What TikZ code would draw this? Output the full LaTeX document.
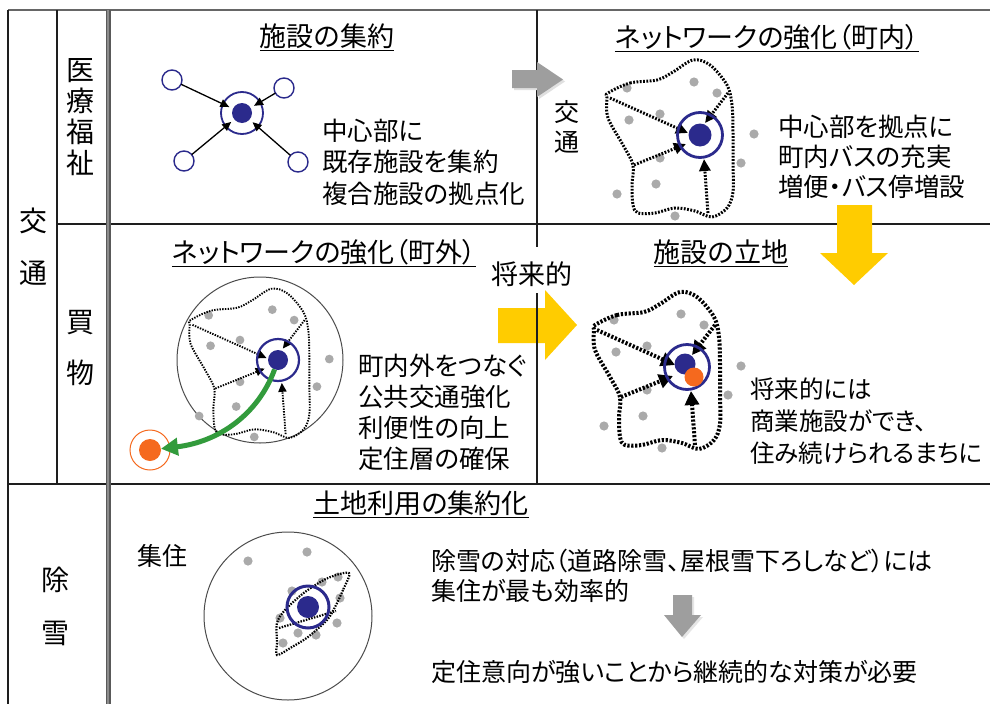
\documentclass[tikz,border=0pt]{standalone}
\usepackage{fontspec}
\setmainfont{Noto Sans CJK JP}[RawFeature=+palt]
\usetikzlibrary{arrows.meta}
\definecolor{navy}{RGB}{43,42,140}
\definecolor{dotgray}{RGB}{170,170,170}
\definecolor{ylw}{RGB}{255,204,0}
\definecolor{garrow}{RGB}{158,158,158}
\definecolor{grn}{RGB}{50,155,60}
\definecolor{org}{RGB}{245,105,30}
\definecolor{rule}{RGB}{30,30,30}
\tikzset{
  lbl/.style={inner sep=0pt, font=\fontsize{28}{31}\selectfont},
  ttl/.style={inner sep=0pt, font=\fontsize{27}{31}\selectfont},
  bodytext/.style={inner sep=0pt, anchor=west, align=left},
  hubdot/.style={circle, fill=navy, inner sep=0pt, outer sep=0pt},
  hubring/.style={circle, draw=navy, inner sep=0pt, outer sep=0pt},
  sat/.style={circle, draw=navy, line width=1.4pt, fill=white, inner sep=0pt, outer sep=0pt, minimum size=20pt},
  arr/.style={line width=1.3pt, shorten >=4pt, -{Triangle[length=9pt,width=8pt]}},
  dotA/.style={line width=1.9pt, dash pattern=on 1.4pt off 1.3pt},
  dotB/.style={line width=3pt, dash pattern=on 1.8pt off 1.5pt},
  dotC/.style={line width=4pt, dash pattern=on 2.2pt off 1.7pt},
  dotD/.style={line width=2.2pt, dash pattern=on 1.5pt off 1.3pt},
  uline/.style={line width=1.2pt},
}
\newcommand\netdiagram[2]{%
  \foreach \px/\py in {-73/-47,-6/-53,17/-42,-71/-15,-40/-21,54/-1,-40/23,41/28,-44/49,-83/59,-25/81}
    \fill[dotgray] (\px,\py) circle[radius=4.6pt];
  \draw[#1] plot[smooth cycle, tension=0.55] coordinates {(-92,-42)(-70,-52)(-43,-55)(-27,-63)(-7,-75)(10,-70)(27,-50)(32,-30)(33,-3)(33,27)(33,57)(27,73)(12,82)(-5,76)(-25,73)(-45,78)(-62,78)(-67,70)(-68,50)(-67,30)(-77,10)(-92,-17)(-93,-37)};
  \draw[#1,-{#2}] (-90,-37) -- (-12,-2);
  \draw[#1,-{#2}] (-66,30) -- (-14,9);
  \draw[#1,-{#2}] (28,-42) -- (5,-12);
  \draw[#1,-{#2}] (8,78) -- (4,24);
}
\begin{document}
\begin{tikzpicture}[x=1pt,y=-1pt, font=\fontsize{25.5}{31.5}\selectfont]
\useasboundingbox (0,0) rectangle (990,704);
\fill[white] (0,0) rectangle (990,704);

% yellow right arrow (under the table lines)
\fill[ylw] (498,308) -- (545,308) -- (545,290) -- (577,325) -- (545,360) -- (545,343) -- (498,343) -- cycle;

% table lines
\draw[black!60, line width=2pt] (8,10) -- (990,10);
\draw[rule, line width=1.6pt] (8,10) -- (8,704);
\draw[rule, line width=1.4pt] (57,10) -- (57,484);
\draw[rule, line width=1.6pt] (57,224) -- (990,224);
\draw[rule, line width=1.6pt] (8,484) -- (990,484);
\draw[rule, line width=1.2pt] (537,10) -- (537,247);
\draw[rule, line width=1.2pt] (537,293) -- (537,484);
\draw[black!65, line width=5pt] (108,10) -- (108,704);
\draw[black!45, line width=2.6pt] (108,10) -- (108,704);

% yellow down arrow
\fill[ylw] (837,205) -- (872,205) -- (872,253) -- (888,253) -- (854,285) -- (820,253) -- (837,253) -- cycle;

% gray arrows
\fill[black!12] (514,72) -- (539,72) -- (539,64) -- (565,81.5) -- (539,99) -- (539,90) -- (514,90) -- cycle;
\fill[garrow] (512,70) -- (537,70) -- (537,62) -- (563,79.5) -- (537,97) -- (537,88) -- (512,88) -- cycle;
\fill[black!10] (675,597) -- (694,597) -- (694,617) -- (703,617) -- (684,639) -- (666,617) -- (675,617) -- cycle;
\fill[garrow] (673,595) -- (692,595) -- (692,615) -- (701,615) -- (682,637) -- (664,615) -- (673,615) -- cycle;

% left labels
\node[lbl] (ko1) at (33,221) {交};
\node[lbl] (ko2) at (33,273) {通};
\node[lbl, align=center] (iryou) at (80,117) {医\\療\\福\\祉};
\node[lbl] (kai) at (80,323) {買};
\node[lbl] (mono) at (80,373) {物};
\node[lbl] (jo) at (55,580) {除};
\node[lbl] (setsu) at (55,633) {雪};

% titles
\node[ttl] (t1) at (327,36) {施設の集約};
\node[ttl] (t2) at (767,37) {ネットワークの強化（町内）};
\node[ttl] (t3) at (324,252) {ネットワークの強化（町外）};
\node[ttl] (t4) at (721,252) {施設の立地};
\node[ttl] (t5) at (421,503) {土地利用の集約化};
\foreach \t in {t1,t2,t3,t4,t5}
  \draw[uline] ([yshift=-4pt]\t.base west) -- ([yshift=-4pt]\t.base east);

% cell 1: concentration of facilities
\node[hubring, line width=1.8pt, minimum size=42pt] (h1r) at (242,113) {};
\node[hubdot, minimum size=20pt] (h1) at (242,113) {};
\node[sat] (s1) at (172,80) {};
\node[sat] (s2) at (284,88) {};
\node[sat] (s3) at (184,161) {};
\node[sat] (s4) at (298,162) {};
\foreach \s in {s1,s2,s3,s4} \draw[arr] (\s) -- (h1);
\node[bodytext, font=\fontsize{25.5}{31.5}\selectfont] (txt1) at (322,162) {中心部に\\既存施設を集約\\複合施設の拠点化};

% cell 2: network inside town
\node[inner sep=0pt, font=\fontsize{25}{30}\selectfont] (k2a) at (567,112) {交};
\node[inner sep=0pt, font=\fontsize{25}{30}\selectfont] (k2b) at (567,142) {通};
\begin{scope}[shift={(700,135)}]
  \netdiagram{dotB}{Triangle[length=12pt,width=11pt]}
\end{scope}
\node[hubring, line width=2.8pt, minimum size=45pt] (h2r) at (700,135) {};
\node[hubdot, minimum size=23pt] (h2) at (700,135) {};
\node[bodytext, font=\fontsize{25.5}{30}\selectfont] (txt2) at (778,157) {中心部を拠点に\\町内バスの充実\\増便・バス停増設};

% cell 3: network outside town
\node[circle, draw=black!70, line width=1pt, minimum size=166pt, inner sep=0pt] (big3) at (260,360) {};
\begin{scope}[shift={(278,360)}, scale=0.95]
  \netdiagram{dotA}{Triangle[length=9pt,width=8pt]}
\end{scope}
\node[hubring, line width=2.2pt, minimum size=42pt] (h3r) at (278,360) {};
\node[hubdot, minimum size=20pt] (h3) at (278,360) {};
\node[circle, draw=org, line width=1pt, minimum size=40pt, inner sep=0pt] (o3r) at (150,450) {};
\node[circle, fill=org, minimum size=22pt, inner sep=0pt, outer sep=0pt] (o3) at (150,450) {};
\draw[grn, line width=5pt, -{Triangle[length=17pt,width=17pt]}] (h3) .. controls (258,415) and (218,442) .. (o3);
\node[bodytext, font=\fontsize{25.5}{31}\selectfont] (txt3) at (358,412.5) {町内外をつなぐ\\公共交通強化\\利便性の向上\\定住層の確保};

% future
\node[inner sep=0pt, font=\fontsize{27}{31}\selectfont] (future) at (532,274) {将来的};

% cell 4: location of facilities
\begin{scope}[shift={(687,367)}]
  \netdiagram{dotC}{Triangle[length=14pt,width=14pt]}
\end{scope}
\node[hubring, line width=2.8pt, minimum size=45pt] (h4r) at (687,367) {};
\node[hubdot, minimum size=21pt] (h4) at (685,364) {};
\node[circle, fill=org, minimum size=19pt, inner sep=0pt] (o4) at (694,377) {};
\node[bodytext, font=\fontsize{24.5}{32}\selectfont] (txt4) at (750,421) {将来的には\\商業施設ができ、\\住み続けられるまちに};

% cell 5: land use concentration
\node[circle, draw=black!70, line width=1pt, minimum size=168pt, inner sep=0pt] (big5) at (288,616) {};
\foreach \px/\py in {248/561,307/552,338/577,322/582,292/591,340/598,280/618,337/623,298/633,316/635,283/643}
  \fill[dotgray] (\px,\py) circle[radius=4.6pt];
\draw[dotD] plot[smooth cycle, tension=0.5] coordinates {(349,573)(343,590)(335,607)(327,620)(308,637)(292,647)(277,655)(277,643)(277,623)(285,610)(305,592)(328,578)};
\draw[dotD] (279,628) -- (336,611);
\node[hubring, line width=3pt, minimum size=42pt] (h5r) at (308,607) {};
\node[hubdot, minimum size=22pt] (h5) at (308,607) {};
\node[bodytext, font=\fontsize{25}{30}\selectfont] (shuju) at (137,556) {集住};
\node[bodytext, font=\fontsize{25}{30}\selectfont] (txt5) at (431,576) {除雪の対応（道路除雪、屋根雪下ろしなど）には\\集住が最も効率的};
\node[bodytext, font=\fontsize{25}{30}\selectfont] (txt6) at (431,672) {定住意向が強いことから継続的な対策が必要};
\end{tikzpicture}
\end{document}
